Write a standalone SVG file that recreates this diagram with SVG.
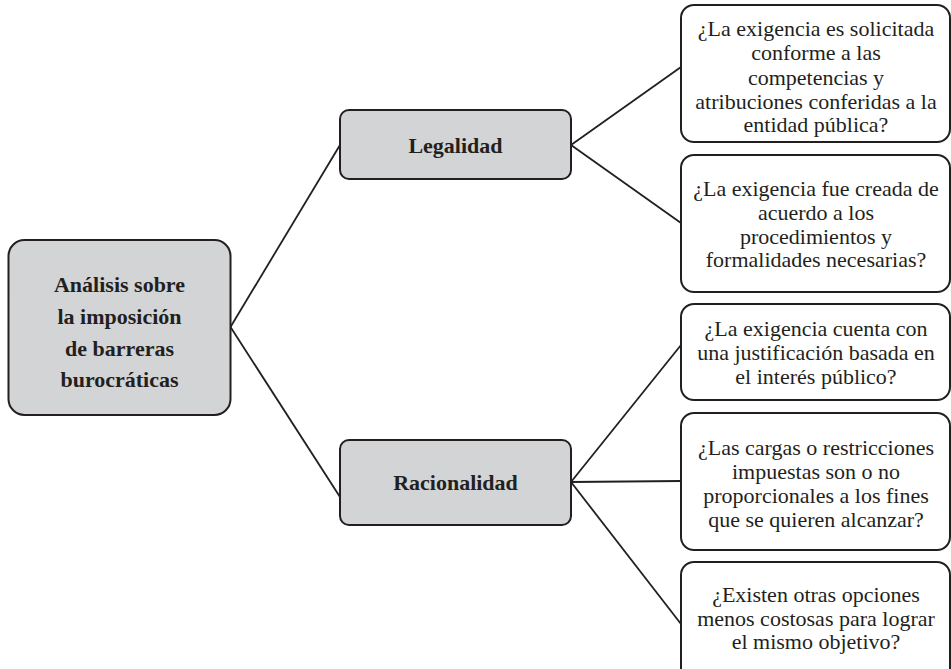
<svg xmlns="http://www.w3.org/2000/svg" width="951" height="669" viewBox="0 0 951 669">
<style>
.gray{fill:#d3d4d6;stroke:#231f20;stroke-width:2}
.white{fill:#ffffff;stroke:#231f20;stroke-width:2}
.nodebold{font-weight:bold;font-size:22px;fill:#231f20;text-anchor:middle}
.nodetext{font-size:22px;fill:#231f20;text-anchor:middle}
.c{fill:none;stroke:#231f20;stroke-width:1.8}
</style>
<rect width="951" height="669" fill="#ffffff"/>
<g id="connectors">
<line class="c" x1="230.5" y1="327" x2="340" y2="145"/>
<line class="c" x1="230.5" y1="327" x2="340" y2="497"/>
<line class="c" x1="571" y1="145" x2="681" y2="67"/>
<line class="c" x1="571" y1="145" x2="681" y2="223"/>
<line class="c" x1="571" y1="482" x2="681" y2="345"/>
<line class="c" x1="571" y1="482" x2="681" y2="481"/>
<line class="c" x1="571" y1="482" x2="681" y2="624"/>
</g>
<g id="root">
<rect class="gray" x="8.5" y="240" width="222" height="175" rx="16"/>
<text class="nodebold" style="font-family:'Liberation Serif',serif" x="119.5" y="292">Análisis sobre</text>
<text class="nodebold" style="font-family:'Liberation Serif',serif" x="119.5" y="324">la imposición</text>
<text class="nodebold" style="font-family:'Liberation Serif',serif" x="119.5" y="356">de barreras</text>
<text class="nodebold" style="font-family:'Liberation Serif',serif" x="119.5" y="387">burocráticas</text>
</g>
<g id="legalidad">
<rect class="gray" x="340" y="110" width="231" height="69" rx="9"/>
<text class="nodebold" style="font-family:'Liberation Serif',serif" x="455.5" y="153">Legalidad</text>
</g>
<g id="racionalidad">
<rect class="gray" x="340" y="440" width="231" height="85" rx="9"/>
<text class="nodebold" style="font-family:'Liberation Serif',serif" x="455.5" y="490">Racionalidad</text>
</g>
<g id="q1">
<rect class="white" x="681" y="5" width="269" height="137" rx="13"/>
<text class="nodetext" style="font-family:'Liberation Serif',serif" x="816" y="36">¿La exigencia es solicitada</text>
<text class="nodetext" style="font-family:'Liberation Serif',serif" x="816" y="60">conforme a las</text>
<text class="nodetext" style="font-family:'Liberation Serif',serif" x="816" y="85">competencias y</text>
<text class="nodetext" style="font-family:'Liberation Serif',serif" x="816" y="109">atribuciones conferidas a la</text>
<text class="nodetext" style="font-family:'Liberation Serif',serif" x="816" y="132">entidad pública?</text>
</g>
<g id="q2">
<rect class="white" x="681" y="155" width="269" height="137" rx="13"/>
<text class="nodetext" style="font-family:'Liberation Serif',serif" x="816" y="196">¿La exigencia fue creada de</text>
<text class="nodetext" style="font-family:'Liberation Serif',serif" x="816" y="220">acuerdo a los</text>
<text class="nodetext" style="font-family:'Liberation Serif',serif" x="816" y="244">procedimientos y</text>
<text class="nodetext" style="font-family:'Liberation Serif',serif" x="816" y="267">formalidades necesarias?</text>
</g>
<g id="q3">
<rect class="white" x="681" y="304" width="269" height="96" rx="13"/>
<text class="nodetext" style="font-family:'Liberation Serif',serif" x="816" y="336">¿La exigencia cuenta con</text>
<text class="nodetext" style="font-family:'Liberation Serif',serif" x="816" y="360">una justificación basada en</text>
<text class="nodetext" style="font-family:'Liberation Serif',serif" x="816" y="384">el interés público?</text>
</g>
<g id="q4">
<rect class="white" x="681" y="413" width="269" height="137" rx="13"/>
<text class="nodetext" style="font-family:'Liberation Serif',serif" x="816" y="455">¿Las cargas o restricciones</text>
<text class="nodetext" style="font-family:'Liberation Serif',serif" x="816" y="479">impuestas son o no</text>
<text class="nodetext" style="font-family:'Liberation Serif',serif" x="816" y="503">proporcionales a los fines</text>
<text class="nodetext" style="font-family:'Liberation Serif',serif" x="816" y="527">que se quieren alcanzar?</text>
</g>
<g id="q5">
<rect class="white" x="681" y="562" width="269" height="120" rx="13"/>
<text class="nodetext" style="font-family:'Liberation Serif',serif" x="816" y="602">¿Existen otras opciones</text>
<text class="nodetext" style="font-family:'Liberation Serif',serif" x="816" y="626">menos costosas para lograr</text>
<text class="nodetext" style="font-family:'Liberation Serif',serif" x="816" y="649">el mismo objetivo?</text>
</g>
</svg>
